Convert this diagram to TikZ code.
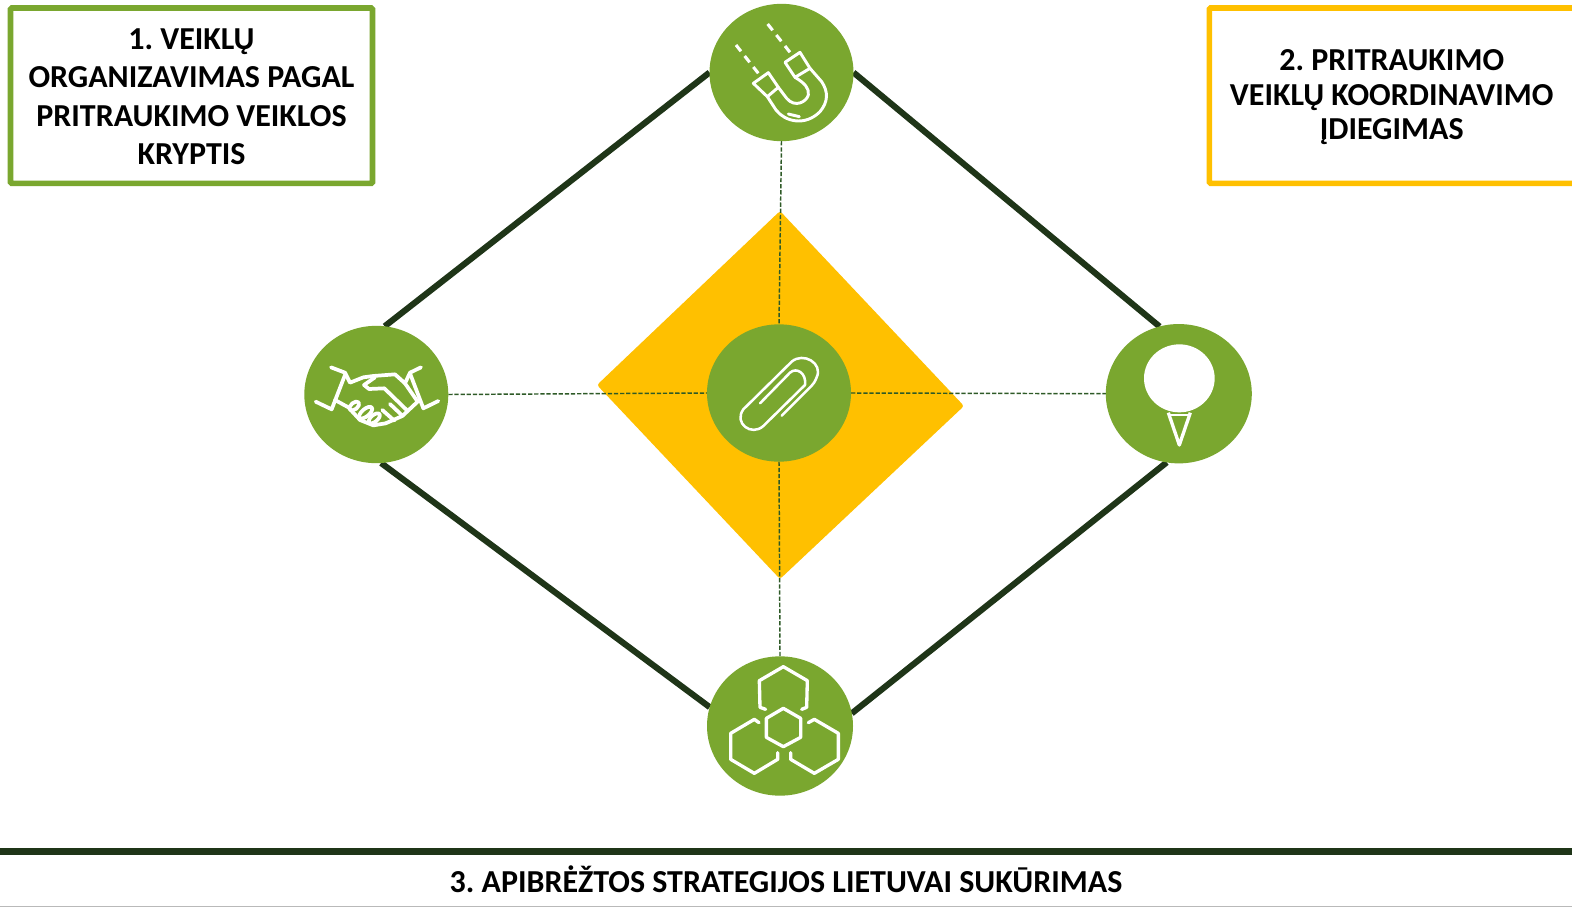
\documentclass[tikz,border=0pt]{standalone}
\usepackage{fontspec}
\setmainfont{Carlito}
\usetikzlibrary{shapes.geometric,backgrounds,calc}
\definecolor{leaf}{HTML}{7AA72F}
\definecolor{forest}{HTML}{1F3518}
\definecolor{moss}{HTML}{2E5A27}
\definecolor{amber}{HTML}{FFC000}
\tikzset{
  hub/.style={ellipse,fill=leaf,inner sep=0pt,outer sep=0pt},
  rim/.style={draw=forest,line width=4.6pt},
  spoke/.style={draw=moss,line width=1.1pt,dash pattern=on 3.2pt off 1.4pt},
  glyph/.style={draw=white,line width=2.5pt,line cap=round,line join=round},
  heading/.style={align=center,text=black,inner sep=0pt,outer sep=0pt,line width=4.2pt,rounded corners=1pt},
  zone/.style={x=0.25pt,y=-0.25pt}
}
\begin{document}
\frenchspacing
\begin{tikzpicture}[x=0.75pt,y=-0.75pt]
\useasboundingbox (0,0) rectangle (1572,907);
% hubs
\node[hub,minimum width=108pt,minimum height=103pt] (top) at (781.5,72.5) {};
\node[hub,minimum width=108pt,minimum height=103pt] (left) at (376.3,394.5) {};
\node[hub,minimum width=108pt,minimum height=103pt] (mid) at (779,393) {};
\node[hub,minimum width=109.5pt,minimum height=104.5pt] (right) at (1178.8,393.7) {};
\node[hub,minimum width=109.5pt,minimum height=104.5pt] (low) at (780,726) {};
\coordinate (dN) at (780,211);
\coordinate (dE) at (964,406);
\coordinate (dS) at (780,579);
\coordinate (dW) at (597,385);
\begin{scope}[on background layer]
  \fill[white] (0,0) rectangle (1572,907);
  \fill[amber,rounded corners=2pt] (dN) -- (dE) -- (dS) -- (dW) -- cycle;
  \draw[rim] (top.180) -- (left.83);
  \draw[rim] (top.0) -- (right.106);
  \draw[rim] (left.-86) -- (low.165);
  \draw[rim] (right.-100) -- (low.10);
  \draw[spoke] (top.south) -- (mid.north);
  \draw[spoke] (mid.south) -- (low.north);
  \draw[spoke] (left.east) -- (mid.west);
  \draw[spoke] (mid.east) -- (right.west);
\end{scope}
% magnet
\begin{scope}[shift={(690,0)},zone]
  \draw[glyph,line width=2.3pt,dash pattern=on 6pt off 4.5pt,line cap=butt] (138,135) -- (205,220);
  \draw[glyph,line width=2.3pt,dash pattern=on 6pt off 4.5pt,line cap=butt] (233,72) -- (300,157);
  \draw[glyph,line width=2.2pt] (190,250) -- (235,218) -- (265,262) -- (232,290) -- cycle;
  \draw[glyph,line width=2.2pt] (285,187) -- (330,157) -- (360,205) -- (315,232) -- cycle;
  \draw[glyph,line width=2.2pt] (232,290) -- (258,330) .. controls (285,365) and (345,380) .. (390,335) .. controls (415,305) and (415,275) .. (395,245) -- (360,205);
  \draw[glyph,line width=2.2pt] (265,262) -- (290,295) .. controls (315,325) and (350,305) .. (355,285) .. controls (358,265) and (345,250) .. (315,232);
  \draw[glyph,line width=2.2pt] (295,342) -- (328,350);
\end{scope}
% handshake
\begin{scope}[shift={(295,320)},zone]
  \begin{scope}[glyph,line width=2.8pt,fill=none]
  \draw (108,142) -- (150,158) -- (165,188) -- (205,172) -- (235,168) -- (300,163) -- (330,190) -- (345,158) -- (378,142);
  \draw (150,165) -- (110,268) -- (62,245);
  \draw (345,160) -- (385,265) -- (430,243);
  \draw (240,172) -- (207,195) -- (222,207) -- (268,205) -- (335,270);
  \draw (330,190) -- (368,245) -- (322,288) -- (272,310);
  \draw (120,240) -- (160,262) -- (195,300) -- (235,316) -- (272,310);
  \draw (285,252) -- (320,285);
  \draw (262,270) -- (298,302);
  \draw[rotate around={40:(178,258)}] (178,258) ellipse [x radius=17,y radius=10];
  \draw[rotate around={40:(212,278)}] (212,278) ellipse [x radius=24,y radius=11];
  \draw[rotate around={40:(238,295)}] (238,295) ellipse [x radius=20,y radius=10];
  \end{scope}
\end{scope}
% paperclip
\begin{scope}[shift={(695,320)},zone]
  \draw[glyph,line width=1.9pt] (195,250) -- (285,158) .. controls (305,140) and (335,160) .. (330,195) -- (205,318) .. controls (170,350) and (115,310) .. (145,268) -- (290,125) .. controls (325,95) and (385,130) .. (365,172) .. controls (360,185) and (355,192) .. (350,197) -- (260,287);
\end{scope}
% pin
\begin{scope}[shift={(1095,320)},zone]
  \fill[white] (253,175) ellipse [x radius=106,y radius=102];
  \draw[glyph,line width=2.5pt,line cap=butt] (220,278) -- (253,375) -- (286,278);
  \draw[glyph,line width=1pt] (225,285) -- (281,285);
\end{scope}
% hexagons
\begin{scope}[shift={(695,650)},zone]
  \draw[glyph] (212,178) -- (195,172) -- (193,92) -- (265,50) -- (337,92) -- (335,172) -- (320,178);
  \draw[glyph] (265,175) -- (317,205) -- (317,262) -- (265,290) -- (214,262) -- (214,205) -- cycle;
  \draw[glyph] (192,218) -- (178,208) -- (107,250) -- (107,328) -- (178,370) -- (248,328) -- (248,308);
  \draw[glyph] (340,218) -- (358,208) -- (430,250) -- (430,328) -- (358,370) -- (287,328) -- (287,308);
\end{scope}
% headings
\node[heading,draw=leaf,minimum width=271.5pt,minimum height=131.6pt] (one) at (191.5,95.7) {};
\node[heading,font=\fontsize{24}{28.7}\selectfont\bfseries] (onetext) at (191.5,96.7)
  {1. VEIKLŲ\\ORGANIZAVIMAS PAGAL\\PRITRAUKIMO VEIKLOS\\KRYPTIS};
\node[heading,draw=amber,minimum width=275pt,minimum height=131.6pt] (two) at (1392.7,95.7) {};
\node[heading,font=\fontsize{24}{26}\selectfont\bfseries] (twotext) at (1391.7,97.2)
  {2. PRITRAUKIMO\\VEIKLŲ KOORDINAVIMO\\ĮDIEGIMAS};
% bottom band
\draw[forest,line width=4.9pt] (0,851.5) -- (1572,851.5);
\draw[gray!55,line width=0.75pt] (0,906.5) -- (1572,906.5);
\node[font=\fontsize{24}{26}\selectfont\bfseries,text=black,inner sep=0pt] (three) at (786,879.5) {3. APIBRĖŽTOS STRATEGIJOS LIETUVAI SUKŪRIMAS};
\end{tikzpicture}
\end{document}
